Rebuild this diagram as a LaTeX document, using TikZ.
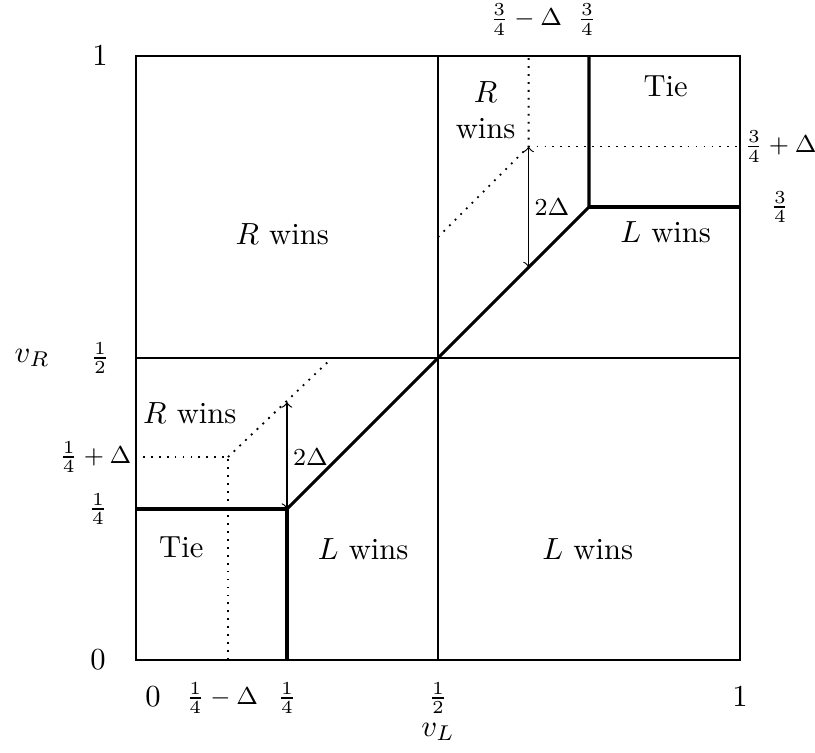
\documentclass[tikz,border=0pt]{standalone}
\begin{document}
\begin{tikzpicture}[x=6.94cm,y=6.94cm,
  thin line/.style={line width=0.4pt},
  bold line/.style={line width=1pt},
  dot line/.style={dotted, line width=0.6pt},
  lbl/.style={inner sep=0pt},
  tick/.style={inner sep=0pt,font=\footnotesize},
  region/.style={inner sep=0pt}]
\useasboundingbox (-0.2252,-0.154) rectangle (1.1242,1.0927);
% named points
\coordinate (O) at (0,0);
\coordinate (TR) at (1,1);
\coordinate (Mb) at (0.5,0);
\coordinate (Mt) at (0.5,1);
\coordinate (Ml) at (0,0.5);
\coordinate (Mr) at (1,0.5);
\coordinate (Q) at (0.25,0.25);
\coordinate (Qb) at (0.25,0);
\coordinate (Ql) at (0,0.25);
\coordinate (T) at (0.75,0.75);
\coordinate (Tt) at (0.75,1);
\coordinate (Tr) at (1,0.75);
\coordinate (Lc) at (0.1523,0.336);
\coordinate (Lb) at (0.1523,0);
\coordinate (Ll) at (0,0.336);
\coordinate (Le) at (0.3245,0.5);
\coordinate (La) at (0.25,0.427);
\coordinate (Uc) at (0.65,0.85);
\coordinate (Ut) at (0.65,1);
\coordinate (Ur) at (1,0.85);
\coordinate (Us) at (0.5,0.7);
\coordinate (Ua) at (0.65,0.65);
% frame and halves
\draw[thin line] (O) rectangle (TR);
\draw[thin line] (Mb) -- (Mt);
\draw[thin line] (Ml) -- (Mr);
% dotted
\draw[dot line] (Lb) -- (Lc) -- (Ll);
\draw[dot line] (Lc) -- (Le);
\draw[dot line] (Us) -- (Uc) -- (Ut);
\draw[dot line] (Uc) -- (Ur);
% bold boundary
\draw[bold line] (Qb) -- (Q) -- (Ql);
\draw[bold line] (Q) -- (T) -- (Tt);
\draw[bold line] (T) -- (Tr);
% arrows
\draw[thin line,<->] (Q) -- (La);
\draw[thin line,<->] (Uc) -- (Ua);
\node[tick,anchor=west] (d1) at (0.259,0.336) {$2\Delta$};
\node[tick,anchor=west] (d2) at (0.659,0.75) {$2\Delta$};
% axis labels
\node[lbl] (yl1) at (-0.0596,1) {$1$};
\node[tick] (ylh) at (-0.0596,0.5) {$\frac{1}{2}$};
\node[tick,anchor=east] (ylqd) at (-0.0066,0.336) {$\frac{1}{4}+\Delta$};
\node[tick] (ylq) at (-0.0629,0.25) {$\frac{1}{4}$};
\node[lbl] (yl0) at (-0.0629,0) {$0$};
\node[lbl] (vR) at (-0.172,0.5) {$v_R$};
\node[lbl] (xl0) at (0.028,-0.061) {$0$};
\node[tick] (xlqd) at (0.1424,-0.063) {$\frac{1}{4}-\Delta$};
\node[tick] (xlq) at (0.25,-0.063) {$\frac{1}{4}$};
\node[tick] (xlh) at (0.5,-0.063) {$\frac{1}{2}$};
\node[lbl] (xl1) at (1,-0.061) {$1$};
\node[lbl] (vL) at (0.5,-0.119) {$v_L$};
\node[tick] (tlqd) at (0.6457,1.06) {$\frac{3}{4}-\Delta$};
\node[tick] (tlq) at (0.7467,1.06) {$\frac{3}{4}$};
\node[tick,anchor=west] (rlqd) at (1.0066,0.85) {$\frac{3}{4}+\Delta$};
\node[tick] (rlq) at (1.066,0.75) {$\frac{3}{4}$};
% regions
\node[region] (r1) at (0.242,0.705) {$R$ wins};
\node[region,align=center] (r2) at (0.579,0.91) {$R$\\wins};
\node[region] (r3) at (0.877,0.949) {Tie};
\node[region] (r4) at (0.877,0.709) {$L$ wins};
\node[region] (r5) at (0.089,0.409) {$R$ wins};
\node[region] (r6) at (0.075,0.187) {Tie};
\node[region] (r7) at (0.376,0.184) {$L$ wins};
\node[region] (r8) at (0.748,0.184) {$L$ wins};
\end{tikzpicture}
\end{document}
